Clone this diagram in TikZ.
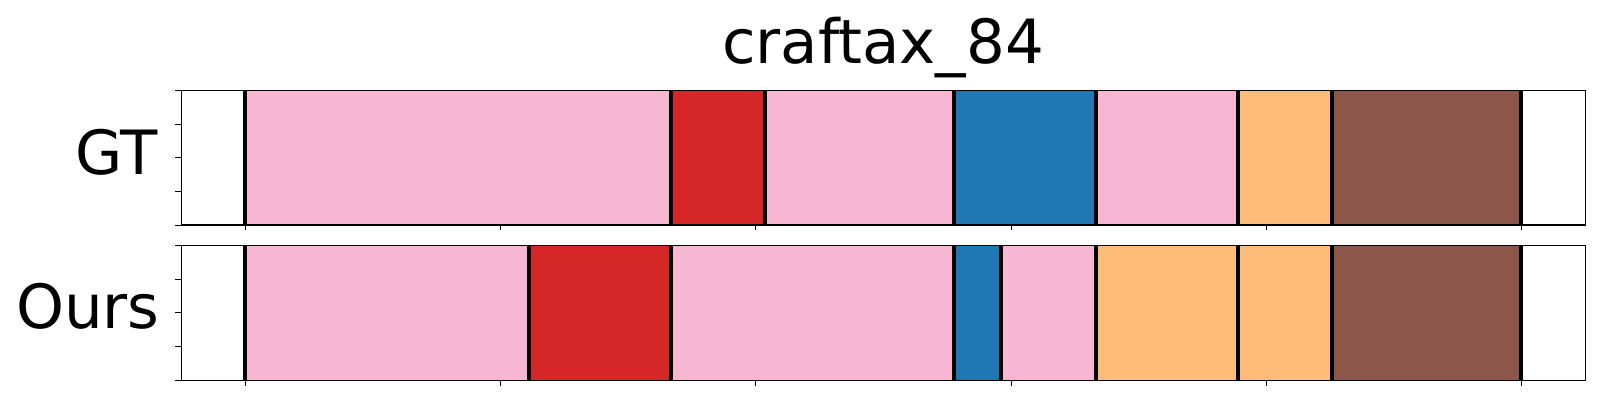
\documentclass[tikz,border=0pt]{standalone}
\usepackage{fontspec}
\setmainfont{DejaVu Sans}
\definecolor{cpink}{HTML}{F7B6D2}
\definecolor{cred}{HTML}{D62728}
\definecolor{cblue}{HTML}{1F77B4}
\definecolor{corange}{HTML}{FFBB78}
\definecolor{cbrown}{HTML}{8C564B}
\begin{document}
\begin{tikzpicture}[x=0.5pt,y=-0.5pt,
  frame/.style={draw=black,line width=0.55pt},
  boundary/.style={line width=2pt,black},
  tickmark/.style={line width=0.4pt,black},
  lbl/.style={font=\fontsize{30.5}{36}\selectfont,inner sep=0pt}]
\useasboundingbox[fill=white] (0,0) rectangle (1600,400);
% GT row
\foreach \a/\b/\c in {245/671/cpink, 671/765/cred, 765/954/cpink, 954/1096/cblue, 1096/1238/cpink, 1238/1332/corange, 1332/1521/cbrown}
  \fill[\c] (\a,90.3) rectangle (\b,225);
\foreach \x in {245,671,765,954,1096,1238,1332,1521}
  \draw[boundary] (\x,90.3) -- (\x,225);
\draw[frame] (181.3,90.3) rectangle (1585.7,225);
\foreach \i in {0,...,4}
  \draw[tickmark] (181.3,{90.3+\i*33.675}) -- ++(-6,0);
\foreach \i in {0,...,5}
  \draw[tickmark] ({245+\i*255.34},225) -- ++(0,5.5);
% Ours row
\foreach \a/\b/\c in {245/529/cpink, 529/671/cred, 671/954/cpink, 954/1001/cblue, 1001/1096/cpink, 1096/1238/corange, 1238/1332/corange, 1332/1521/cbrown}
  \fill[\c] (\a,245.5) rectangle (\b,380.3);
\foreach \x in {245,529,671,954,1001,1096,1238,1332,1521}
  \draw[boundary] (\x,245.5) -- (\x,380.3);
\draw[frame] (181.3,245.5) rectangle (1585.7,380.3);
\foreach \i in {0,...,4}
  \draw[tickmark] (181.3,{245.5+\i*33.7}) -- ++(-6,0);
\foreach \i in {0,...,5}
  \draw[tickmark] ({245+\i*255.34},380.3) -- ++(0,5.5);
% texts
\node[lbl,anchor=base] (title) at (883,63.3) {craftax\_84};
\node[lbl,anchor=base east] (gt) at (158.5,174.3) {GT};
\node[lbl,anchor=base east] (ours) at (160,329) {Ours};
\end{tikzpicture}
\end{document}
